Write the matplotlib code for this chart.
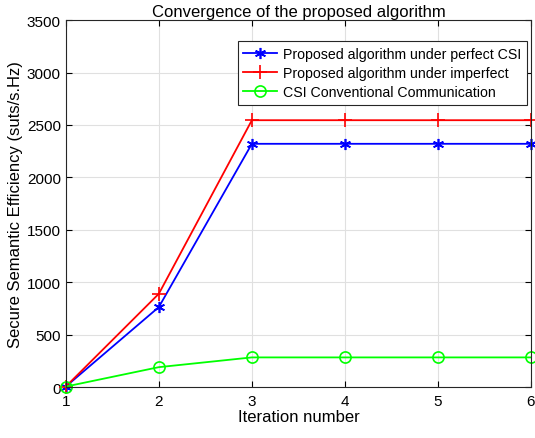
import matplotlib
matplotlib.use("Agg")
import matplotlib.pyplot as plt

plt.rcParams['font.family'] = ['Liberation Sans', 'DejaVu Sans']

# data
iterations = [1, 2, 3, 4, 5, 6]
perfect_csi = [5, 763, 2320, 2320, 2320, 2320]
imperfect_csi = [5, 890, 2545, 2545, 2545, 2545]
conventional = [5, 190, 283, 283, 283, 283]

fig = plt.figure(figsize=(5.35, 4.39), dpi=100)
ax = fig.add_axes([0.123, 0.116, 0.8695, 0.836])

ax.plot(iterations, perfect_csi, color='#0000ff', marker=(6, 2, 0), markersize=8,
        markeredgewidth=1.2, linewidth=1.3,
        label='Proposed algorithm under perfect CSI', clip_on=False)
ax.plot(iterations, imperfect_csi, color='#ff0000', marker='+', markersize=10,
        markeredgewidth=1.2, linewidth=1.3,
        label='Proposed algorithm under imperfect', clip_on=False)
ax.plot(iterations, conventional, color='#00ff00', marker='o', markersize=8,
        markerfacecolor='none', markeredgewidth=1.2, linewidth=1.3,
        label='CSI Conventional Communication', clip_on=False)

ax.set_xlim(1, 6)
ax.set_ylim(0, 3500)
ax.set_xticks(iterations)
ax.set_yticks(range(0, 3501, 500))
ax.grid(True, color='#e0e0e0', linewidth=0.8)
ax.set_axisbelow(True)
ax.tick_params(direction='in', top=True, right=True, labelsize=11, length=4)
ax.tick_params(axis='x', pad=5)
for s in ax.spines.values():
    s.set_linewidth(0.8)
    s.set_color('#262626')

ax.set_xlabel('Iteration number', fontsize=12, labelpad=1)
ax.set_ylabel('Secure Semantic Efficiency (suts/s.Hz)', fontsize=12, labelpad=3)
ax.set_title('Convergence of the proposed algorithm', fontsize=12, pad=3)

leg = ax.legend(loc='upper right', bbox_to_anchor=(0.991, 0.943), fontsize=10.2,
                fancybox=False, framealpha=1, edgecolor='#262626',
                handlelength=2.4, borderpad=0.4, labelspacing=0.38,
                borderaxespad=0, handletextpad=0.4)
leg.get_frame().set_linewidth(0.8)

fig.savefig('out.png', dpi=100)
